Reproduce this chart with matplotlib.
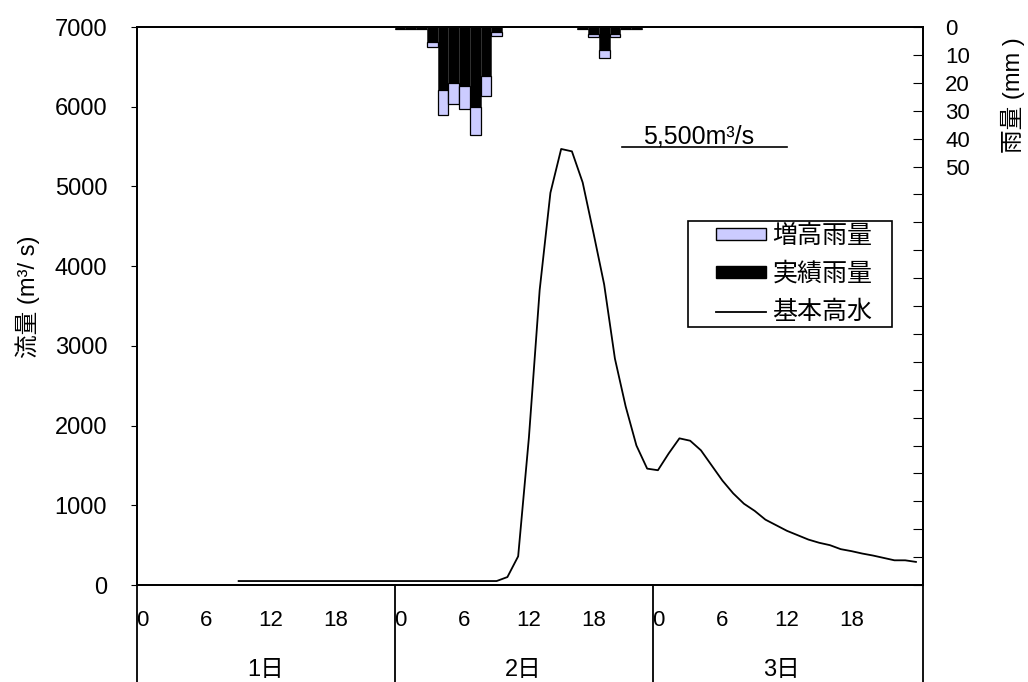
import matplotlib
matplotlib.use('Agg')
import matplotlib.pyplot as plt
import matplotlib.transforms as mtransforms
from matplotlib.patches import Patch, Rectangle
from matplotlib.lines import Line2D

plt.rcParams['font.family'] = ['Liberation Sans', 'Noto Sans CJK JP']
plt.rcParams['font.size'] = 16

# hydrograph (hour counted from day 1, 0:00)
flow_hours = list(range(9, 73))
flow = [50, 50, 50, 50, 50, 50, 50, 50, 50, 50, 50, 50, 50, 50, 50,
        50, 50, 50, 50, 50, 50, 50, 50, 50, 50,
        100, 360, 1850, 3700, 4920, 5470, 5440, 5050, 4420, 3770,
        2840, 2240, 1750, 1460, 1440, 1650, 1840, 1810, 1690, 1500,
        1310, 1150, 1020, 930, 820, 750, 680, 625, 570, 530,
        500, 450, 425, 395, 370, 340, 310, 310, 290]

# hourly rainfall (mm)
rain_hours = [24, 25, 26, 27, 28, 29, 30, 31, 32, 33, 41, 42, 43, 44, 45, 46]
rain_actual = [0.8, 0.8, 0.8, 5.4, 22.7, 19.9, 21.3, 28.5, 17.5, 1.9,
               0.8, 2.5, 8.2, 2.5, 0.8, 0.8]
rain_total = [0.8, 0.8, 0.8, 7.2, 31.4, 27.6, 29.3, 38.6, 24.9, 3.1,
              0.8, 3.7, 11.0, 3.7, 0.8, 0.8]
rain_extra = [t - a for t, a in zip(rain_total, rain_actual)]

hour_labels = [0, 6, 12, 18]
day_labels = ['1日', '2日', '3日']
peak_text = '5,500m³/s'
peak_value = 5500

lavender = '#ccccff'

fig = plt.figure(figsize=(10.28, 6.82), dpi=100)
ax = fig.add_axes([0.1333, 0.1422, 0.7646, 0.8182])
x_left, x_right = -0.45, 72.66

ax.plot(flow_hours, flow, color='black', lw=1.3)
ax.set_xlim(x_left, x_right)
ax.set_ylim(0, 7000)
ax.set_yticks(range(0, 7001, 1000))
ax.set_xticks([])
ax.tick_params(axis='y', direction='out', length=4, pad=17.5, labelsize=17)

# peak annotation
ax.plot([44.7, 60.0], [peak_value, peak_value], color='black', lw=1.2)
ax.text(51.8, peak_value - 30, peak_text, ha='center', va='bottom', fontsize=18)

# rainfall on inverted right axis
ax2 = ax.twinx()
ax2.bar(rain_hours, rain_actual, width=1.0, color='black', edgecolor='#333333', lw=0.6)
ax2.bar(rain_hours, rain_extra, width=1.0, bottom=rain_actual, color=lavender,
        edgecolor='black', lw=0.9)
ax2.set_ylim(200, 0)
ax2.set_xlim(x_left, x_right)
ax2.set_yticks(range(0, 201, 10))
ax2.set_yticklabels([str(v) if v <= 50 else '' for v in range(0, 201, 10)])
ax2.tick_params(axis='y', direction='in', length=7, pad=16, labelsize=16)

for a in (ax, ax2):
    for s in a.spines.values():
        s.set_linewidth(1.3)

# category axis below the plot
trans = mtransforms.blended_transform_factory(ax.transData, ax.transAxes)
for b in [x_left, 23.55, 47.55, x_right]:
    ax.plot([b, b], [0, -0.2], color='black', lw=1.3, transform=trans, clip_on=False)
for d, name in enumerate(day_labels):
    for h in hour_labels:
        ax.text(d * 24 + h, -0.063, str(h), transform=trans, ha='center', va='center',
                fontsize=16)
    ax.text(d * 24 + 11.5, -0.152, name, transform=trans, ha='center', va='center',
            fontsize=17)

fig.text(28 / 1028, 1 - 297 / 682, '流量 (m³/ s)', rotation=90, ha='center',
         va='center', fontsize=17)
fig.text(1013 / 1028, 1 - 95 / 682, '雨量 (mm )', rotation=90, ha='center',
         va='center', fontsize=17)

handles = [Patch(facecolor=lavender, edgecolor='black', label='増高雨量'),
           Patch(facecolor='black', edgecolor='black', label='実績雨量'),
           Line2D([], [], color='black', lw=1.3, label='基本高水')]
leg = ax2.legend(handles=handles, loc='upper left', bbox_to_anchor=(0.7366, 0.647),
                 borderaxespad=0, frameon=False, fontsize=18,
                 handlelength=2.0, handleheight=0.35, handletextpad=0.25,
                 labelspacing=0.56, borderpad=0)
# legend frame box
ax2.add_patch(Rectangle((0.701, 0.4624), 0.2596, 0.1899, transform=ax2.transAxes,
                        facecolor='none', edgecolor='black', lw=1.2, zorder=5))

fig.savefig('out.png', dpi=100)
